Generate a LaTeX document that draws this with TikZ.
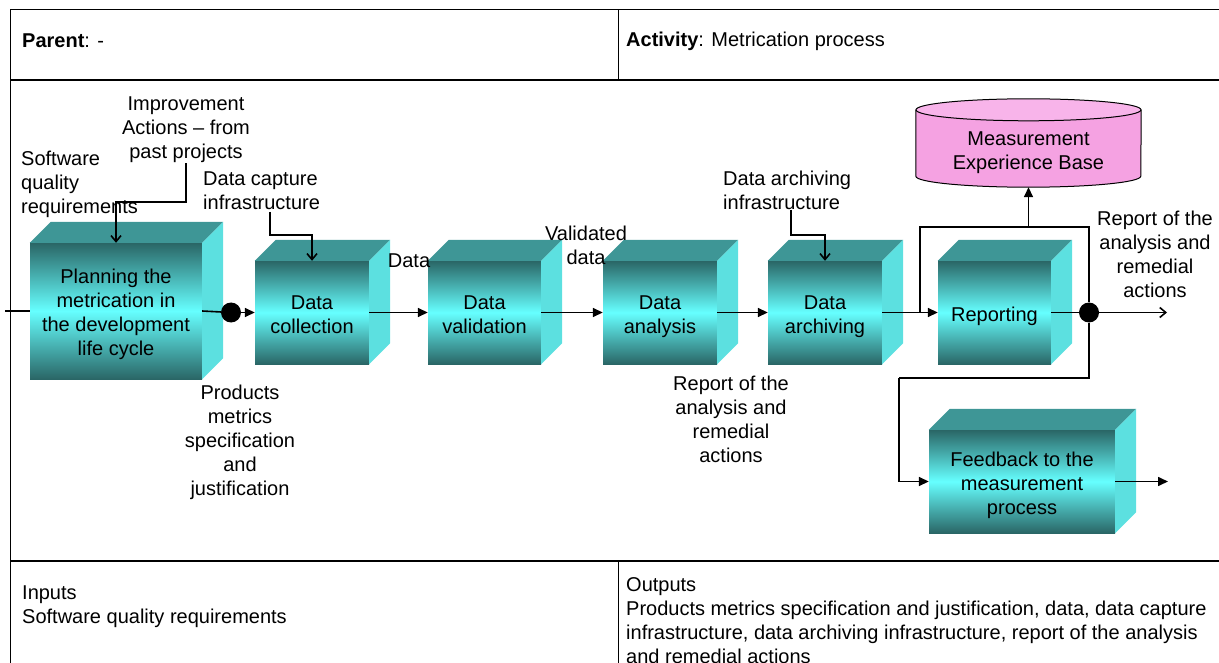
\documentclass[tikz,border=0pt]{standalone}
\usepackage{fontspec}
\setmainfont{Liberation Sans}
\usetikzlibrary{arrows.meta,backgrounds,calc}

\definecolor{cubedark}{RGB}{42,102,102}
\definecolor{cubemid}{RGB}{102,255,255}
\definecolor{cubetopc}{RGB}{62,150,150}
\definecolor{cubesidec}{RGB}{92,224,224}
\definecolor{basebody}{RGB}{245,162,226}
\definecolor{basetop}{RGB}{248,180,234}

% fixed first-line height and last-line depth, so text sits the same in every box
\newcommand\topstrut{\rule{0pt}{22pt}}
\newcommand\botstrut{\rule[-4.5pt]{0pt}{4.5pt}}

\tikzset{
  every node/.append style={font=\fontsize{20pt}{24pt}\selectfont},
  cubefront/.style={rectangle, inner sep=0pt, align=center,
    top color=cubedark, bottom color=cubedark, middle color=cubemid},
  lbl/.style={inner sep=0pt, align=center},
  dotnode/.style={circle, fill=black, minimum size=20pt, inner sep=0pt},
  wire/.style={line width=1.6pt},
  flow/.style={wire, -{Triangle[length=10pt,width=9pt]}},
  feed/.style={wire, -{Straight Barb[length=6pt,width=10pt]}},
  frame/.style={line width=1pt},
}

% top and right faces of a box drawn as a cube
\newcommand\cubefaces[1]{%
  \fill[cubetopc] (#1.north west) -- ([shift={(21,-21)}]#1.north west)
    -- ([shift={(21,-21)}]#1.north east) -- (#1.north east) -- cycle;
  \fill[cubesidec] (#1.north east) -- ([shift={(21,-21)}]#1.north east)
    -- ([shift={(21,-21)}]#1.south east) -- (#1.south east) -- cycle;
}

\begin{document}
\begin{tikzpicture}[x=1pt, y=-1pt]
\useasboundingbox (0,0) rectangle (1219,663);

% form frame
\draw[frame] (10,663) -- (10,10) -- (1219,10);
\draw[line width=2pt] (10,80) -- (1219,80);
\draw[frame] (618,10) -- (618,80);
\draw[line width=1.6pt] (10,561) -- (1219,561);
\draw[frame] (618,561) -- (618,663);

\node[lbl, anchor=west] (parent) at (22,41) {\textbf{Parent}: -};
\node[lbl, anchor=west] (activity) at (626,41) {\textbf{Activity}: Metrication process};
\node[lbl, anchor=west, align=left] (inputs) at (22,607) {Inputs\\Software quality requirements};
\node[lbl, anchor=west, align=left] (outputs) at (626,620.5) {Outputs\\Products metrics specification and justification, data, data capture\\infrastructure, data archiving infrastructure, report of the analysis\\and remedial actions};

% process steps
\node[cubefront, minimum width=172pt, minimum height=136pt] (plan) at (116,311) {\topstrut Planning the\\metrication in\\the development\\life cycle\botstrut};
\node[cubefront, minimum width=114pt, minimum height=103pt] (coll) at (312,312.5) {\topstrut Data\\collection\botstrut};
\node[cubefront, minimum width=113pt, minimum height=103pt] (val) at (484.5,312.5) {\topstrut Data\\validation\botstrut};
\node[cubefront, minimum width=114pt, minimum height=103pt] (ana) at (660,312.5) {\topstrut Data\\analysis\botstrut};
\node[cubefront, minimum width=114pt, minimum height=103pt] (arch) at (825,312.5) {\topstrut Data\\archiving\botstrut};
\node[cubefront, minimum width=113pt, minimum height=103pt] (rep) at (994.5,312.5) {\topstrut Reporting\botstrut};
\node[cubefront, minimum width=186pt, minimum height=103pt] (fb) at (1022,481.5) {\topstrut Feedback to the\\measurement\\process\botstrut};
\cubefaces{plan}
\cubefaces{coll}
\cubefaces{val}
\cubefaces{ana}
\cubefaces{arch}
\cubefaces{rep}
\cubefaces{fb}

% experience base store
\node[lbl, minimum width=225pt, minimum height=77pt] (meb) at (1028.5,148.5) {\topstrut Measurement\\Experience Base\botstrut};
\begin{pgfonlayer}{background}
  \filldraw[fill=basebody, line width=1pt] (meb.north west) -- ([yshift=11pt]meb.south west)
    arc[start angle=180, end angle=360, x radius=112.5pt, y radius=11pt] -- (meb.north east);
  \filldraw[fill=basetop, line width=1pt] (meb.north) ellipse [x radius=112.5pt, y radius=11pt];
\end{pgfonlayer}

% junctions
\node[dotnode] (d1) at (231,312.5) {};
\node[dotnode] (d2) at (1089,312.5) {};

% free ends
\coordinate (inleft) at (5,311);
\coordinate (capfoot) at (270,212);
\coordinate (arcfoot) at (791,210);
\coordinate (loopL) at (920,227);
\coordinate (loopR) at (1089,227);
\coordinate (repout) at (1167,312.5);
\coordinate (fbbend) at (899,378);
\coordinate (fbout) at (1168,481.5);

% labels
\node[lbl, align=left, anchor=west] (swq) at (21,184) {Software\\quality\\requirements};
\node[lbl] (impr) at (186,130) {Improvement\\Actions – from\\past projects};
\node[lbl, align=left, anchor=west] (cap) at (203,191) {Data capture\\infrastructure};
\node[lbl] (datalbl) at (409,261) {Data};
\node[lbl] (vlbl) at (586,245) {Validated\\data};
\node[lbl, align=left, anchor=west] (arclbl) at (723,190) {Data archiving\\infrastructure};
\node[lbl] (pms) at (240,442) {Products\\metrics\\specification\\and\\justification};
\node[lbl] (rep1) at (731,419) {Report of the\\analysis and\\remedial\\actions};
\node[lbl] (rep2) at (1155,254) {Report of the\\analysis and\\remedial\\actions};

% connectors
\draw[wire] (inleft) -- (plan.west);
\draw[wire] (plan.east) -- (d1);
\draw[flow] (d1) -- (coll.west);
\draw[flow] (coll.east) -- (val.west);
\draw[flow] (val.east) -- (ana.west);
\draw[flow] (ana.east) -- (arch.west);
\draw[flow] (arch.east) -- (rep.west);
\draw[wire] (rep.east) -- (d2);
\draw[feed] (d2) -- (repout);
\draw[wire] (loopL |- rep.west) -- (loopL) -- (loopR) -- (d2);
\draw[flow] (meb.south |- loopL) -- (meb.south);
\draw[wire] (d2) |- (fbbend);
\draw[flow] (fbbend) |- (fb.west);
\draw[flow] (fb.east) -- (fbout);

\draw[feed] (impr.south) |- ([yshift=41pt]plan.north) -- (plan.north);
\draw[feed] (capfoot) |- ([yshift=26pt]coll.north) -- (coll.north);
\draw[feed] (arcfoot) |- ([yshift=26pt]arch.north) -- (arch.north);
\end{tikzpicture}
\end{document}
